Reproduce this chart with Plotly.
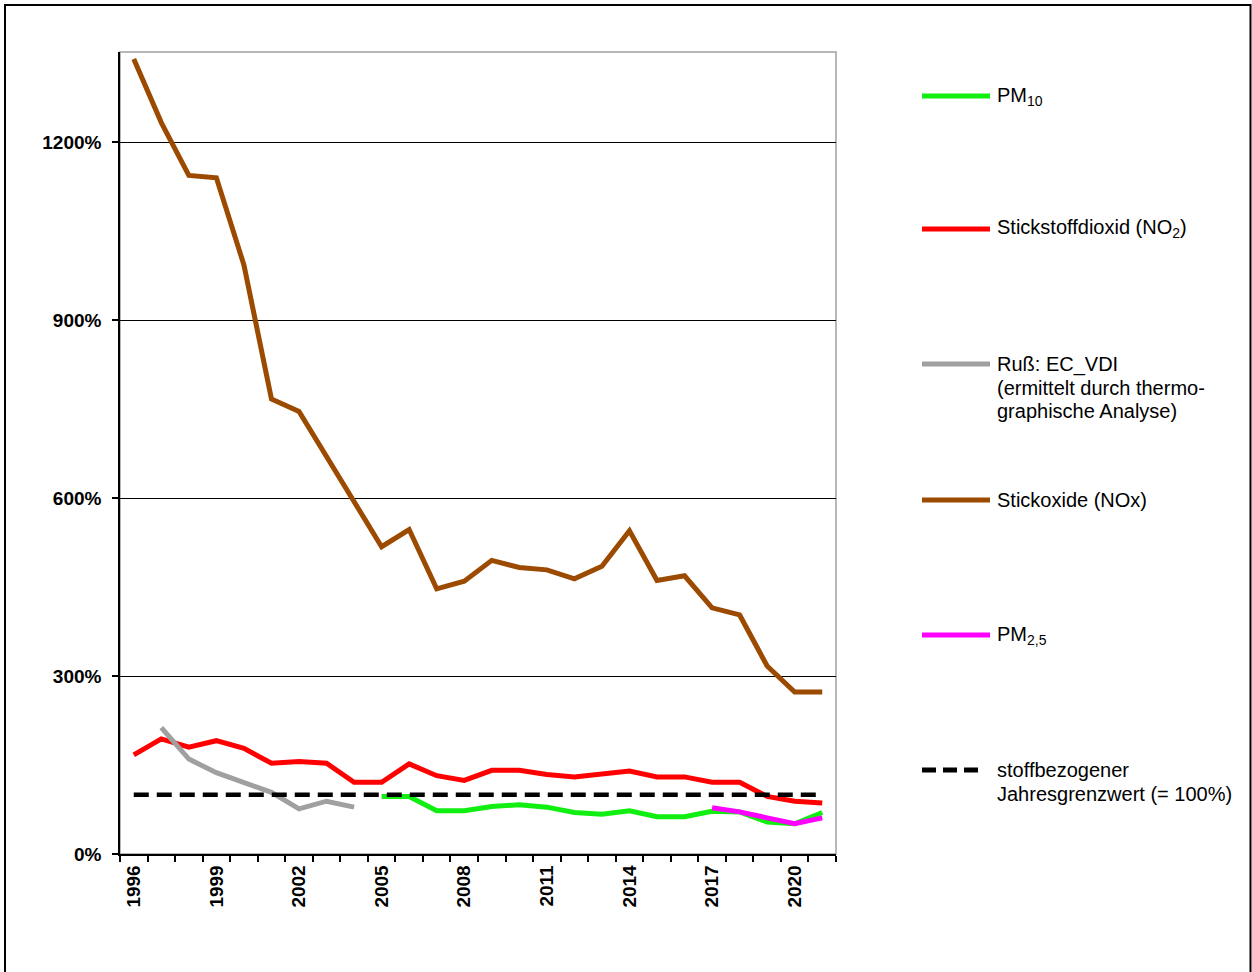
import plotly.graph_objects as go

# ---------------- data ----------------
years = list(range(1996, 2022))
tick_years = [1996, 1999, 2002, 2005, 2008, 2011, 2014, 2017, 2020]
y_ticks = [0, 300, 600, 900, 1200]

nox = [1340, 1233, 1144, 1140, 993, 767, 746, 670, 590, 518, 547, 447, 460,
       495, 483, 479, 464, 485, 545, 461, 469, 415, 403, 317, 273, 273]
no2 = [167, 194, 180, 191, 178, 153, 156, 153, 121, 121, 152, 132, 124,
       141, 141, 134, 130, 134, 140, 130, 130, 121, 121, 97, 89, 86]
russ_years = list(range(1997, 2005))
russ = [213, 160, 137, 121, 104, 76, 89, 79]
pm10_years = list(range(2005, 2022))
pm10 = [97, 97, 73, 73, 80, 83, 79, 70, 67, 73, 63, 63, 72, 71, 54, 51, 70]
pm25_years = list(range(2017, 2022))
pm25 = [78, 71, 61, 51, 61]
limit = [100] * len(years)

# ---------------- styling ----------------
C_NOX = "#9C4A00"
C_NO2 = "#FF0000"
C_RUSS = "#A0A0A0"
C_PM10 = "#11EE11"
C_PM25 = "#FF00FF"
C_LIM = "#000000"
FONT = "Liberation Sans, Arial, sans-serif"

W, H = 1252, 972
L, R, T, B = 120, 836, 52, 854  # plot-area pixel box


def px(x):
    return (x - L) / (R - L)


def py(y):
    return (B - y) / (B - T)


fig = go.Figure()
lw = 5
fig.add_trace(go.Scatter(x=years, y=nox, mode="lines", line=dict(color=C_NOX, width=lw),
                         name="Stickoxide (NOx)", showlegend=False))
fig.add_trace(go.Scatter(x=years, y=no2, mode="lines", line=dict(color=C_NO2, width=lw),
                         name="Stickstoffdioxid (NO2)", showlegend=False))
fig.add_trace(go.Scatter(x=pm10_years, y=pm10, mode="lines", line=dict(color=C_PM10, width=lw),
                         name="PM10", showlegend=False))
fig.add_trace(go.Scatter(x=russ_years, y=russ, mode="lines", line=dict(color=C_RUSS, width=lw),
                         name="Ruß: EC_VDI", showlegend=False))
fig.add_trace(go.Scatter(x=pm25_years, y=pm25, mode="lines", line=dict(color=C_PM25, width=lw),
                         name="PM2,5", showlegend=False))
fig.add_trace(go.Scatter(x=years, y=limit, mode="lines",
                         line=dict(color=C_LIM, width=4.5, dash="15px,8px"),
                         name="stoffbezogener Jahresgrenzwert (= 100%)", showlegend=False))

# ---------------- manual legend ----------------
legend_items = [
    (["PM<sub>10</sub>"], C_PM10, "solid", 96),
    (["Stickstoffdioxid (NO<sub>2</sub>)"], C_NO2, "solid", 229),
    (["Ruß: EC_VDI", "(ermittelt durch thermo-", "graphische Analyse)"], C_RUSS, "solid", 364),
    (["Stickoxide (NOx)"], C_NOX, "solid", 500),
    (["PM<sub>2,5</sub>"], C_PM25, "solid", 635),
    (["stoffbezogener", "Jahresgrenzwert (= 100%)"], C_LIM, "dash", 770),
]
LINE_GAP = 23.5
shapes = []
annotations = []
for lines, col, dash, yc in legend_items:
    shapes.append(dict(type="line", xref="paper", yref="paper",
                       x0=px(922), x1=px(990) if dash == "solid" else px(984),
                       y0=py(yc), y1=py(yc),
                       line=dict(color=col, width=5,
                                 dash="solid" if dash == "solid" else "14px,7px")))
    for i, txt in enumerate(lines):
        annotations.append(dict(xref="paper", yref="paper", x=px(995),
                                y=py(yc + i * LINE_GAP),
                                xanchor="left", yanchor="middle", showarrow=False,
                                text=txt, align="left",
                                font=dict(family=FONT, size=20, color="#000000")))

# plot-area border (top/right gray)
shapes.append(dict(type="rect", xref="paper", yref="paper", x0=0, x1=1, y0=0, y1=1,
                   line=dict(color="#A0A0A0", width=1.5), layer="below"))
# outer frame
shapes.append(dict(type="rect", xref="paper", yref="paper",
                   x0=px(5), x1=px(1250.5), y0=py(985), y1=py(5),
                   line=dict(color="#000000", width=2)))

fig.update_layout(
    width=W, height=H,
    margin=dict(l=L, r=W - R, t=T, b=H - B, pad=0),
    paper_bgcolor="white", plot_bgcolor="white",
    shapes=shapes, annotations=annotations,
    showlegend=False,
    font=dict(family=FONT, size=19, color="#000000"),
)
fig.update_xaxes(
    range=[years[0] - 0.5, years[-1] + 0.5],
    tickmode="array", tickvals=tick_years, ticktext=[str(y) for y in tick_years],
    tickangle=-90, ticks="", showgrid=False,
    tickfont=dict(family=FONT, size=19, color="#000000", weight="bold"),
    ticklabelstandoff=2,
    showline=True, linecolor="#000000", linewidth=1.5,
    minor=dict(tickmode="array",
               tickvals=[y - 0.5 for y in years] + [years[-1] + 0.5],
               ticks="outside", ticklen=6, tickcolor="#000000", tickwidth=1.5,
               showgrid=False),
    zeroline=False,
)
fig.update_yaxes(
    range=[0, 1352],
    tickmode="array", tickvals=y_ticks, ticktext=[f"{v}%" for v in y_ticks],
    ticks="outside", ticklen=6, tickcolor="#000000", tickwidth=1.5,
    tickfont=dict(family=FONT, size=19, color="#000000", weight="bold"),
    ticklabelstandoff=7,
    showgrid=True, gridcolor="#000000", gridwidth=1.2,
    showline=True, linecolor="#000000", linewidth=1.5,
    zeroline=False,
)

fig.write_html("out.html",
               config={"displayModeBar": False},
               post_script="document.body.style.margin='0';document.body.style.overflow='hidden';")
